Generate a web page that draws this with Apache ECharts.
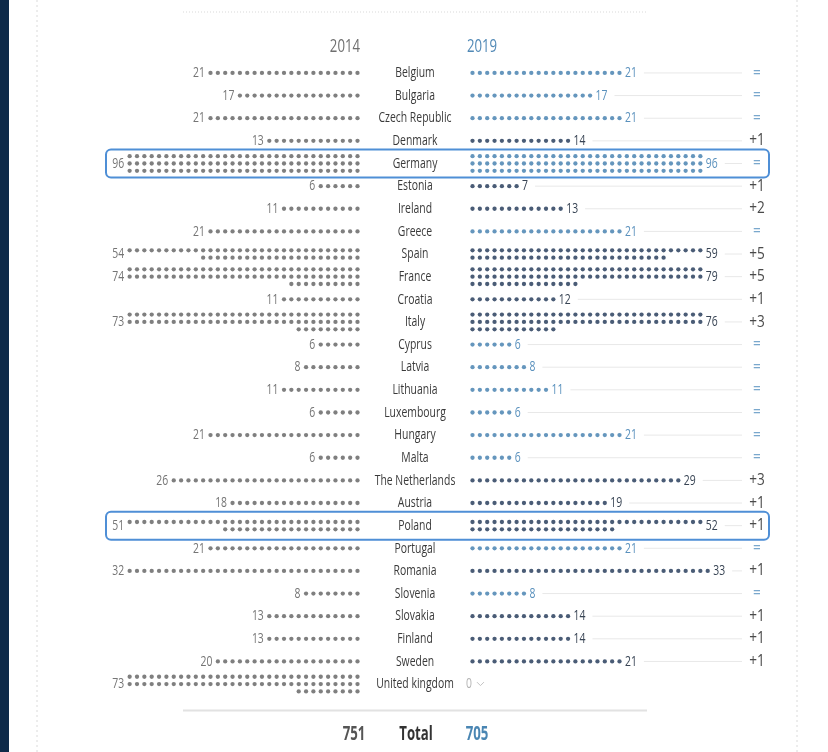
<!DOCTYPE html>
<html><head><meta charset="utf-8">
<script src="https://cdn.jsdelivr.net/npm/echarts@6/dist/echarts.min.js"></script>
<style>html,body{margin:0;padding:0;background:#fff}#c{width:828px;height:752px}</style>
</head><body><div id="c"></div>
<script>
// ---------------- data ----------------
const countries = ['Belgium','Bulgaria','Czech Republic','Denmark','Germany','Estonia','Ireland','Greece','Spain','France','Croatia','Italy','Cyprus','Latvia','Lithuania','Luxembourg','Hungary','Malta','The Netherlands','Austria','Poland','Portugal','Romania','Slovenia','Slovakia','Finland','Sweden','United kingdom'];
const seats2014 = [21,17,21,13,96,6,11,21,54,74,11,73,6,8,11,6,21,6,26,18,51,21,32,8,13,13,20,73];
const seats2019 = [21,17,21,14,96,7,13,21,59,79,12,76,6,8,11,6,21,6,29,19,52,21,33,8,14,14,21,0];
const highlighted = ['Germany','Poland'];
const yearLabels = ['2014','2019'];
const totalLabel = 'Total';
const total2014 = seats2014.reduce((a,b)=>a+b,0);
const total2019 = seats2019.reduce((a,b)=>a+b,0);

// ---------------- layout ----------------
const W=828, H=752;
const S=7.35;          // px per dot
const CX=415;          // centre column (country names)
const ROW0=73, R=22.65;
const GAP=(CX-357.5)/S;
const PER_ROW=32, SINGLE_MAX=33;
const FONT_FAM='"Open Sans","Liberation Sans",sans-serif';
const F13='15px '+FONT_FAM;

const mctx=document.createElement('canvas').getContext('2d');
function measure(t,font){mctx.font=font||F13; return mctx.measureText(t).width;}
// horizontal condensing factor (to imitate a condensed face)
const SX = 73/measure('Czech Republic');

const C_GRAY_DOT='#5f5f5f', C_GRAY_LBL='#757575', C_COUNTRY='#3a3a3a';
const C_BLUE_DOT='#3f7cac', C_BLUE_LBL='#5a91bd';
const C_DARK_DOT='#1d3354', C_DARK_LBL='#384454';
const C_EQ='#7aa8cd', C_PLUS='#4a4a4a', C_HL='#4f8fd6', C_CONN='#e8e8e8';

function px2u(px){return (px-CX)/S;}
function layoutRows(n){
  if(n<=0) return [];
  if(n<=SINGLE_MAX) return [n];
  const rows=[]; let left=n;
  while(left>0){rows.push(Math.min(PER_ROW,left)); left-=PER_ROW;}
  return rows;
}

const dots14=[], dots19=[];
countries.forEach((c,i)=>{
  const r14=layoutRows(seats2014[i]);
  r14.forEach((cnt,k)=>{
    const off=(k-(r14.length-1)/2)*S/R;
    for(let j=0;j<cnt;j++) dots14.push([-(GAP+j), i+off]);
  });
  const r19=layoutRows(seats2019[i]);
  const same=seats2019[i]===seats2014[i];
  r19.forEach((cnt,k)=>{
    const off=(k-(r19.length-1)/2)*S/R;
    for(let j=0;j<cnt;j++) dots19.push({value:[GAP+j, i+off], itemStyle:{color: same?C_BLUE_DOT:C_DARK_DOT}});
  });
});

function text(t,x,y,align,fill,font,sx){
  return {type:'text', x:x, y:y, scaleX:sx||SX, scaleY:1,
    style:{text:t, x:0, y:0, align:align, verticalAlign:'middle', textAlign:align, textVerticalAlign:'middle', font:font||F13, fill:fill}};
}

function renderRow(params, api){
  const i=params.dataIndex;
  const v14=seats2014[i], v19=seats2019[i];
  const c=api.coord([0,i]); const cy=c[1];
  const ch=[];
  if(highlighted.indexOf(countries[i])>=0){
    const x1=api.coord([px2u(106),i])[0], x2=api.coord([px2u(769),i])[0];
    ch.push({type:'rect', shape:{x:x1,y:cy-14,width:x2-x1,height:28,r:5}, style:{fill:'none',stroke:C_HL,lineWidth:2}});
  }
  ch.push(text(countries[i], c[0], cy, 'center', C_COUNTRY));
  const n14=layoutRows(v14)[0]||0;
  ch.push(text(String(v14), api.coord([-(GAP+n14-1),i])[0]-5.5, cy, 'right', C_GRAY_LBL));
  if(v19>0){
    const same=v19===v14;
    const n19=layoutRows(v19)[0];
    const rx=api.coord([GAP+n19-1,i])[0]+5.5;
    const lbl=String(v19);
    ch.push(text(lbl, rx, cy, 'left', same?C_BLUE_LBL:C_DARK_LBL));
    const w=measure(lbl)*SX;
    const le=api.coord([px2u(742),i])[0];
    ch.push({type:'line', shape:{x1:rx+w+7,y1:cy,x2:le,y2:cy}, style:{stroke:C_CONN,lineWidth:1}});
    const d=v19-v14;
    ch.push(text(d===0?'=':(d>0?'+'+d:String(d)), api.coord([px2u(757),i])[0], cy, 'center', d===0?C_EQ:C_PLUS, '16px '+FONT_FAM, 0.85));
  } else {
    const zx=api.coord([px2u(466),i])[0];
    ch.push(text('0', zx, cy, 'left', '#b3b3b3'));
    const vx=zx+measure('0')*SX+5;
    ch.push({type:'polyline', shape:{points:[[vx,cy-2],[vx+3.5,cy+1.5],[vx+7,cy-2]]}, style:{stroke:'#c4c4c4',lineWidth:1,fill:'none'}});
  }
  return {type:'group', children:ch};
}

function renderFrame(params, api){
  const hy=api.coord([0,(46.5-ROW0)/R])[1];
  const ty=api.coord([0,(735-ROW0)/R])[1];
  const ly=api.coord([0,(711-ROW0)/R])[1];
  const F16='19px '+FONT_FAM, FB='bold 19px '+FONT_FAM;
  return {type:'group', children:[
    text(yearLabels[0], api.coord([px2u(360),0])[0], hy, 'right', '#6f6f6f', F16),
    text(yearLabels[1], api.coord([px2u(467),0])[0], hy, 'left', '#5189b6', F16),
    {type:'line', shape:{x1:api.coord([px2u(183),0])[0], y1:ly, x2:api.coord([px2u(647),0])[0], y2:ly}, style:{stroke:'#e2e2e2',lineWidth:2}},
    text(String(total2014), api.coord([px2u(354),0])[0], ty, 'center', '#555', FB),
    text(totalLabel, api.coord([px2u(416),0])[0], ty, 'center', '#333', FB),
    text(String(total2019), api.coord([px2u(477),0])[0], ty, 'center', '#4a86b3', FB)
  ]};
}

const chart=echarts.init(document.getElementById('c'),null,{renderer:'canvas'});
chart.setOption({
  animation:false,
  backgroundColor:'#fff',
  grid:{left:0,right:0,top:ROW0-3*R,height:33*R,containLabel:false},
  xAxis:{type:'value',min:-CX/S,max:(W-CX)/S,show:false},
  yAxis:{type:'value',inverse:true,min:-3,max:30,show:false},
  graphic:[
    {type:'rect',shape:{x:0,y:0,width:9,height:H},style:{fill:'#0e2a49'},silent:true},
    {type:'line',shape:{x1:37,y1:0,x2:37,y2:H},style:{stroke:'#dadada',lineWidth:1,lineDash:[2,3]},silent:true},
    {type:'line',shape:{x1:797,y1:0,x2:797,y2:H},style:{stroke:'#dadada',lineWidth:1,lineDash:[2,3]},silent:true},
    {type:'line',shape:{x1:183,y1:12,x2:647,y2:12},style:{stroke:'#ececec',lineWidth:2,lineDash:[1,2]},silent:true}
  ],
  series:[
    {type:'scatter',name:'2014',data:dots14,symbol:'circle',symbolSize:4.3,itemStyle:{color:C_GRAY_DOT},silent:true,clip:false},
    {type:'scatter',name:'2019',data:dots19,symbol:'circle',symbolSize:4.3,silent:true,clip:false},
    {type:'custom',name:'rows',data:countries.map((c,i)=>[0,i]),encode:{x:0,y:1},renderItem:renderRow,silent:true,z:3},
    {type:'custom',name:'frame',data:[[0,0]],encode:{x:0,y:1},renderItem:renderFrame,silent:true,z:3}
  ]
});
</script></body></html>
